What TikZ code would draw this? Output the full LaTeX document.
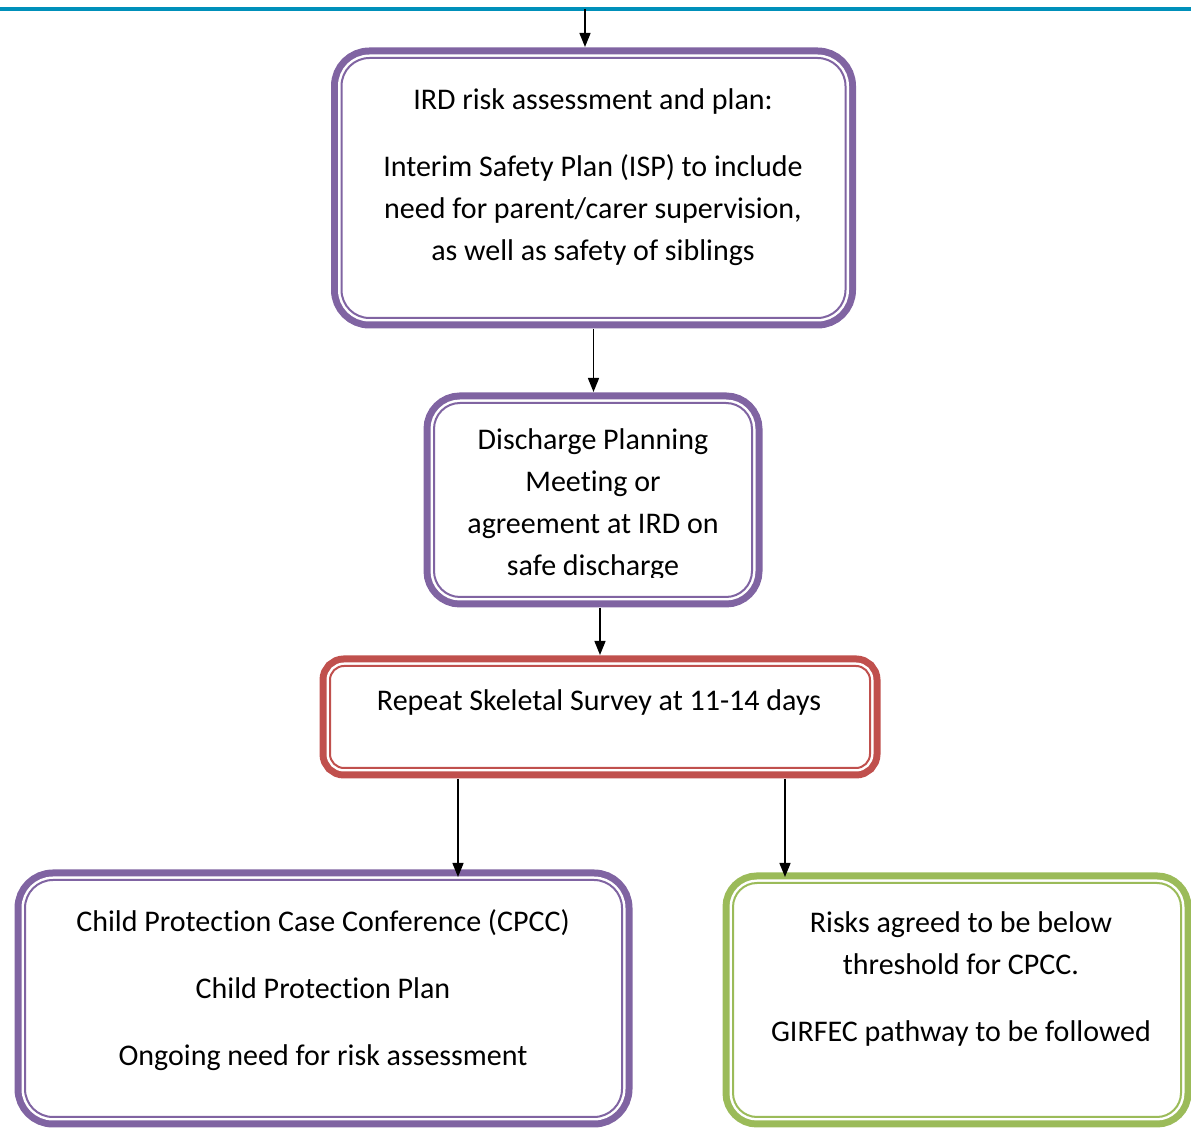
\documentclass[tikz,border=0pt]{standalone}
\usepackage{fontspec}
\setmainfont[Ligatures=NoCommon]{Carlito}
\usepackage{tikz}
\usetikzlibrary{arrows.meta}

\definecolor{ringpurple}{RGB}{128,100,162}
\definecolor{ringred}{RGB}{192,80,77}
\definecolor{ringgreen}{RGB}{155,187,89}
\definecolor{rulecyan}{RGB}{0,144,186}

\tikzset{
  ringbox/.style={rectangle, draw=#1, line width=1pt, fill=white,
    preaction={draw=#1, line width=10.5pt},
    preaction={draw=white, line width=3.5pt}},
  boxtext/.style={align=center, inner sep=0pt,
    font=\fontsize{15}{21}\selectfont},
  link/.style={-{Triangle[length=7pt,width=5.5pt]}, line width=0.7pt,
    shorten <=5pt, shorten >=5pt}
}

\begin{document}
\begin{tikzpicture}[x=0.5pt, y=-0.5pt]
    \useasboundingbox (0,0) rectangle (1191,1128);
    \draw[rulecyan, line width=2pt] (0,9) -- (1191,9);
    \coordinate (entry) at (585,9);

    \node[ringbox=ringpurple, rounded corners=14pt, minimum width=252pt, minimum height=130pt] (ird) at (593.5,188) {};
    \node[ringbox=ringpurple, rounded corners=13pt, minimum width=159pt, minimum height=97pt] (dpm) at (593,500) {};
    \node[ringbox=ringred, rounded corners=7pt, minimum width=270pt, minimum height=51pt] (rss) at (600,717) {};
    \node[ringbox=ringpurple, rounded corners=14pt, minimum width=298.5pt, minimum height=118.5pt] (cpcc) at (323.5,998.5) {};
    \node[ringbox=ringgreen, rounded corners=12pt, minimum width=224pt, minimum height=117pt] (girfec) at (957,1000) {};

    \node[boxtext] (irdtxt) at (593,177) {IRD risk assessment and plan:\\[12.5pt]
        Interim Safety Plan (ISP) to include\\ need for parent/carer supervision,\\ as well as safety of siblings};
    \begin{scope}
        \clip (434,403) rectangle (752,578);
        \node[boxtext] (dpmtxt) at (593,505) {Discharge Planning\\ Meeting or\\ agreement at IRD on\\ safe discharge};
    \end{scope}
    \node[boxtext] (rsstxt) at (599,703) {Repeat Skeletal Survey at 11-14 days};
    \node[boxtext] (cpcctxt) at (323,990) {Child Protection Case Conference (CPCC)\\[12.5pt]
        Child Protection Plan\\[12.5pt] Ongoing need for risk assessment};
    \node[boxtext] (girfectxt) at (961,979.5) {Risks agreed to be below\\ threshold for CPCC.\\[12.5pt]
        GIRFEC pathway to be followed};

    \draw[link, shorten <=0pt] (entry) -- (entry |- ird.north);
    \draw[link] (ird.south) -- (ird.south |- dpm.north);
    \draw[link] (rss.north |- dpm.south) -- (rss.north);
    \draw[link, shorten >=1pt] ([xshift=-71pt]rss.south) -- ([xshift=-71pt]rss.south |- cpcc.north);
    \draw[link, shorten >=2.5pt] ([xshift=92.5pt]rss.south) -- ([xshift=92.5pt]rss.south |- girfec.north);
\end{tikzpicture}
\end{document}
